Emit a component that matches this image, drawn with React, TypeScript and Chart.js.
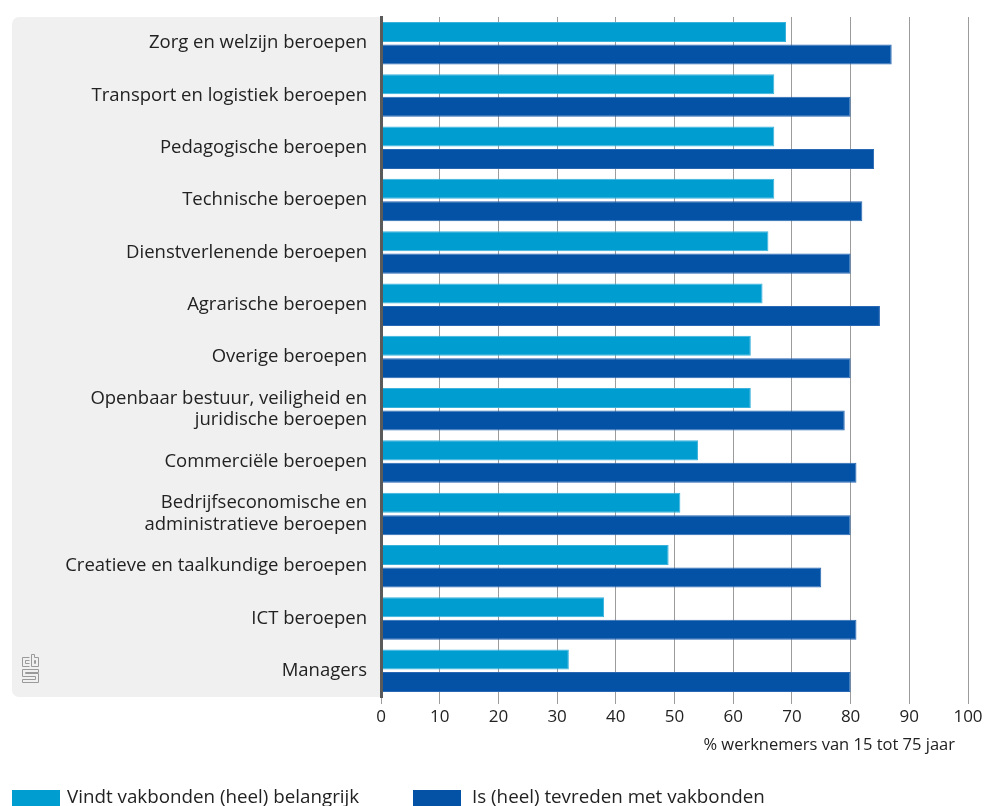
import React, { useEffect, useRef } from 'react';
import { Chart, registerables } from 'chart.js';

Chart.register(...registerables);

const categories: (string | string[])[] = [
  'Zorg en welzijn beroepen',
  'Transport en logistiek beroepen',
  'Pedagogische beroepen',
  'Technische beroepen',
  'Dienstverlenende beroepen',
  'Agrarische beroepen',
  'Overige beroepen',
  ['Openbaar bestuur, veiligheid en', 'juridische beroepen'],
  'Commerciële beroepen',
  ['Bedrijfseconomische en', 'administratieve beroepen'],
  'Creatieve en taalkundige beroepen',
  'ICT beroepen',
  'Managers',
];

const belangrijk = [69, 67, 67, 67, 66, 65, 63, 63, 54, 51, 49, 38, 32];
const tevreden = [87, 80, 84, 82, 80, 85, 80, 79, 81, 80, 75, 81, 80];

const seriesNames = ['Vindt vakbonden (heel) belangrijk', 'Is (heel) tevreden met vakbonden'];
const seriesColors = ['#009dd1', '#0452a5'];
const seriesBorders = ['#3ab2dc', '#2868b3'];
const axisTitle = '% werknemers van 15 tot 75 jaar';
const xMin = 0;
const xMax = 100;
const xStep = 10;

const FONT = "'Open Sans', sans-serif";

const panelPlugin = {
  id: 'panel',
  beforeDraw(chart: any) {
    const { ctx, chartArea } = chart;
    ctx.save();
    ctx.fillStyle = '#eff0ef';
    ctx.beginPath();
    (ctx as any).roundRect(12, chartArea.top, chartArea.left - 12, chartArea.bottom - chartArea.top, [7, 0, 0, 7]);
    ctx.fill();
    // logo
    const x0 = 22.5;
    const y0 = chartArea.bottom - 42.5;
    ctx.strokeStyle = '#9a9a9a';
    ctx.lineWidth = 1;
    ctx.beginPath();
    ctx.moveTo(x0 + 7, y0 + 3);
    ctx.lineTo(x0, y0 + 3);
    ctx.lineTo(x0, y0 + 12);
    ctx.lineTo(x0 + 7, y0 + 12);
    ctx.moveTo(x0 + 7, y0 + 6);
    ctx.lineTo(x0 + 3, y0 + 6);
    ctx.lineTo(x0 + 3, y0 + 9);
    ctx.lineTo(x0 + 7, y0 + 9);
    ctx.moveTo(x0 + 9, y0);
    ctx.lineTo(x0 + 9, y0 + 12);
    ctx.lineTo(x0 + 16, y0 + 12);
    ctx.lineTo(x0 + 16, y0 + 3);
    ctx.lineTo(x0 + 12, y0 + 3);
    ctx.lineTo(x0 + 12, y0);
    ctx.closePath();
    ctx.rect(x0 + 12, y0 + 6, 1, 3);
    ctx.moveTo(x0 + 16, y0 + 15);
    ctx.lineTo(x0, y0 + 15);
    ctx.lineTo(x0, y0 + 22);
    ctx.lineTo(x0 + 13, y0 + 22);
    ctx.lineTo(x0 + 13, y0 + 25);
    ctx.lineTo(x0, y0 + 25);
    ctx.lineTo(x0, y0 + 28);
    ctx.lineTo(x0 + 16, y0 + 28);
    ctx.lineTo(x0 + 16, y0 + 19);
    ctx.lineTo(x0 + 3, y0 + 19);
    ctx.lineTo(x0 + 3, y0 + 18);
    ctx.lineTo(x0 + 16, y0 + 18);
    ctx.closePath();
    ctx.stroke();
    ctx.restore();
  },
  afterDraw(chart: any) {
    const { ctx, chartArea } = chart;
    ctx.save();
    ctx.fillStyle = '#222';
    ctx.font = `16.5px ${FONT}`;
    ctx.textAlign = 'right';
    ctx.textBaseline = 'middle';
    ctx.fillText(axisTitle, chartArea.right - 13, chartArea.bottom + 48);
    ctx.restore();
  },
};

export default function App() {
  const ref = useRef<HTMLCanvasElement>(null);

  useEffect(() => {
    if (!ref.current) return;
    const chart = new Chart(ref.current, {
      type: 'bar',
      data: {
        labels: categories,
        datasets: [
          {
            label: seriesNames[0],
            data: belangrijk,
            backgroundColor: seriesColors[0],
            borderColor: seriesBorders[0],
            borderWidth: 1,
            barPercentage: 0.89,
            categoryPercentage: 0.86,
          },
          {
            label: seriesNames[1],
            data: tevreden,
            backgroundColor: seriesColors[1],
            borderColor: seriesBorders[1],
            borderWidth: 1,
            barPercentage: 0.89,
            categoryPercentage: 0.86,
          },
        ],
      },
      options: {
        indexAxis: 'y',
        responsive: false,
        animation: false,
        layout: { padding: { top: 17, right: 19, bottom: 49, left: 0 } },
        plugins: {
          legend: { display: false },
          tooltip: { enabled: false },
        },
        scales: {
          x: {
            type: 'linear',
            min: xMin,
            max: xMax,
            ticks: {
              stepSize: xStep,
              color: '#222',
              padding: 3,
              font: { family: FONT, size: 17 },
            },
            grid: {
              color: '#9c9c9c',
              lineWidth: 1,
              tickLength: 7,
              drawTicks: true,
            },
            border: { display: false },
            afterFit(scale: any) {
              scale.height = 60;
              scale.paddingLeft = 0;
              scale.paddingRight = 0;
            },
          },
          y: {
            type: 'category',
            grid: { display: false, drawTicks: false },
            border: { display: true, color: '#5a5a5a', width: 3, z: 1 },
            ticks: {
              color: '#222',
              padding: 14,
              font: { family: FONT, size: 18.5, lineHeight: 1.18 },
              autoSkip: false,
            },
            afterFit(scale: any) {
              scale.width = 381;
              scale.paddingTop = 0;
              scale.paddingBottom = 0;
            },
          },
        },
      },
      plugins: [panelPlugin],
    } as any);
    return () => chart.destroy();
  }, []);

  const legendText: React.CSSProperties = {
    position: 'absolute',
    top: 785,
    fontFamily: FONT,
    fontSize: 18.8,
    color: '#222',
    lineHeight: '22px',
    whiteSpace: 'nowrap',
  };

  return (
    <div style={{ position: 'fixed', left: 0, top: 0, width: 987, height: 806, background: '#fff', overflow: 'hidden' }}>
      <canvas ref={ref} width={987} height={806} style={{ display: 'block' }} />
      <div style={{ position: 'absolute', left: 12, top: 790, width: 48, height: 16, background: seriesColors[0] }} />
      <div style={{ ...legendText, left: 67 }}>{seriesNames[0]}</div>
      <div style={{ position: 'absolute', left: 413, top: 790, width: 48, height: 16, background: seriesColors[1] }} />
      <div style={{ ...legendText, left: 472 }}>{seriesNames[1]}</div>
    </div>
  );
}
